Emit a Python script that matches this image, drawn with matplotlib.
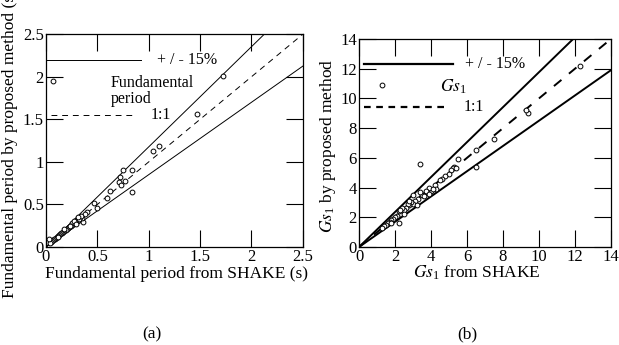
import matplotlib
matplotlib.use("Agg")
import matplotlib.pyplot as plt
import numpy as np

plt.rcParams['font.family'] = ['Liberation Serif', 'DejaVu Serif']
plt.rcParams['mathtext.fontset'] = 'stix'

# (a) fundamental period: SHAKE vs proposed method (s)
period_shake = [0.07, 1.72, 1.47, 1.04, 1.10, 0.84, 0.84, 0.75, 0.72, 0.71, 0.73, 0.77,
                0.62, 0.59, 0.47, 0.50, 0.40, 0.38, 0.36, 0.35, 0.33, 0.30, 0.28, 0.26,
                0.25, 0.24, 0.22, 0.21, 0.20, 0.19, 0.18, 0.17, 0.16, 0.15, 0.14, 0.13,
                0.12, 0.11, 0.10, 0.09, 0.08, 0.07, 0.06, 0.05, 0.04, 0.03, 0.27, 0.32,
                0.34, 0.23, 0.29, 0.31, 0.18, 0.12]
period_prop = [1.95, 2.01, 1.56, 1.13, 1.19, 0.90, 0.65, 0.91, 0.82, 0.76, 0.73, 0.77,
               0.66, 0.57, 0.52, 0.46, 0.41, 0.39, 0.29, 0.34, 0.35, 0.32, 0.30, 0.27,
               0.28, 0.25, 0.23, 0.22, 0.21, 0.20, 0.19, 0.18, 0.17, 0.16, 0.15, 0.14,
               0.13, 0.12, 0.11, 0.10, 0.09, 0.08, 0.07, 0.06, 0.05, 0.10, 0.31, 0.33,
               0.37, 0.25, 0.27, 0.35, 0.21, 0.12]

# (b) Gs1: SHAKE vs proposed method
gs_shake = [1.3, 3.4, 12.3, 9.4, 9.3, 7.5, 6.5, 6.5, 5.5, 5.3, 5.2, 5.1, 5.0, 4.8, 4.6,
            4.5, 4.2, 4.3, 4.0, 3.9, 3.8, 3.7, 3.5, 3.4, 3.3, 3.1, 3.0, 3.0, 2.9, 2.8,
            2.7, 2.6, 2.5, 2.4, 2.3, 2.2, 2.2, 2.1, 2.0, 1.9, 1.8, 1.7, 1.6, 1.5, 1.4,
            1.3, 2.5, 3.2, 3.6, 2.8, 2.3, 1.8, 4.1, 3.9, 5.4]
gs_prop = [10.9, 5.6, 12.2, 9.0, 9.2, 7.3, 6.5, 5.4, 5.9, 5.4, 5.3, 5.2, 4.9, 4.8, 4.6,
           4.5, 4.2, 3.9, 3.8, 4.0, 3.7, 3.8, 3.5, 3.7, 3.2, 3.1, 3.5, 2.9, 3.0, 2.8,
           2.9, 2.6, 2.5, 2.6, 2.2, 2.4, 1.6, 2.1, 2.0, 1.9, 1.8, 1.7, 1.6, 1.5, 1.4,
           1.3, 2.2, 2.8, 3.4, 3.1, 2.5, 1.6, 3.9, 3.6, 5.3]

upper = 1 / 0.85
lower = 0.85

fig = plt.figure(figsize=(6.19, 3.45), dpi=100)
ax1 = fig.add_axes([0.0743, 0.284, 0.415, 0.617])
ax2 = fig.add_axes([0.580, 0.284, 0.407, 0.603])


def style_axes(ax, lim, step):
    ax.set_xlim(0, lim)
    ax.set_ylim(0, lim)
    ticks = np.arange(0, lim + step / 2, step)
    ax.set_xticks(ticks)
    ax.set_yticks(ticks)
    ax.tick_params(direction='in', length=12, width=0.8, top=True, right=True,
                   labelsize=12, pad=1.5)
    for s in ax.spines.values():
        s.set_linewidth(0.9)


# (a)
lim = 2.5
xs = np.array([0, lim])
ax1.plot(xs, upper * xs, color='black', lw=0.7)
ax1.plot(xs, lower * xs, color='black', lw=0.7)
ax1.plot(xs, xs, color='black', lw=0.7, dashes=(6, 5))
ax1.scatter(period_shake, period_prop, s=12, facecolors='white', edgecolors='black',
            linewidths=0.7, zorder=3)
ax1.plot([0, 0.92], [2.2, 2.2], color='black', lw=0.7)
ax1.text(1.08, 2.2, '+ / - 15%', fontsize=11.5, va='center')
ax1.text(0.63, 1.83, 'Fundamental\nperiod', fontsize=11.5, va='center', linespacing=1.0)
ax1.plot([0.05, 0.85], [1.55, 1.55], color='black', lw=0.7, dashes=(6, 5))
ax1.text(1.02, 1.55, '1:1', fontsize=11.5, va='center')
style_axes(ax1, lim, 0.5)
ax1.set_yticklabels(['0', '0.5', '1', '1.5', '2', '2.5'])
ax1.set_xticklabels(['0', '0.5', '1', '1.5', '2', '2.5'])

# (b)
lim = 14
xs = np.array([0, lim])
ax2.plot(xs, upper * xs, color='black', lw=1.4)
ax2.plot(xs, lower * xs, color='black', lw=1.4)
ax2.plot(xs, xs, color='black', lw=1.4, dashes=(5, 5))
ax2.scatter(gs_shake, gs_prop, s=12, facecolors='white', edgecolors='black',
            linewidths=0.7, zorder=3)
ax2.plot([0.3, 5.2], [12.3, 12.3], color='black', lw=1.6)
ax2.text(5.9, 12.3, '+ / - 15%', fontsize=11.5, va='center')
ax2.text(4.5, 10.8, r'$\mathit{Gs}_{\mathregular{1}}$', fontsize=12.5, va='center')
ax2.plot([0.3, 4.8], [9.4, 9.4], color='black', lw=1.6, dashes=(3, 2.5))
ax2.text(5.8, 9.4, '1:1', fontsize=11.5, va='center')
style_axes(ax2, lim, 2)

# axis labels
fig.text(0.016, 0.585, 'Fundamental period by proposed method (s)', rotation=90,
         ha='center', va='center', fontsize=12.5)
fig.text(0.285, 0.205, 'Fundamental period from SHAKE (s)', ha='center', va='center',
         fontsize=12.5)
fig.text(0.530, 0.577, r'$\mathit{Gs}_{\mathregular{1}}$ by proposed method', rotation=90,
         ha='center', va='center', fontsize=12.5)
fig.text(0.771, 0.208, r'$\mathit{Gs}_{\mathregular{1}}$ from SHAKE', ha='center',
         va='center', fontsize=12.5)

fig.text(0.246, 0.03, '(a)', ha='center', va='center', fontsize=12.5)
fig.text(0.755, 0.03, '(b)', ha='center', va='center', fontsize=12.5)

fig.savefig('out.png', dpi=100)
